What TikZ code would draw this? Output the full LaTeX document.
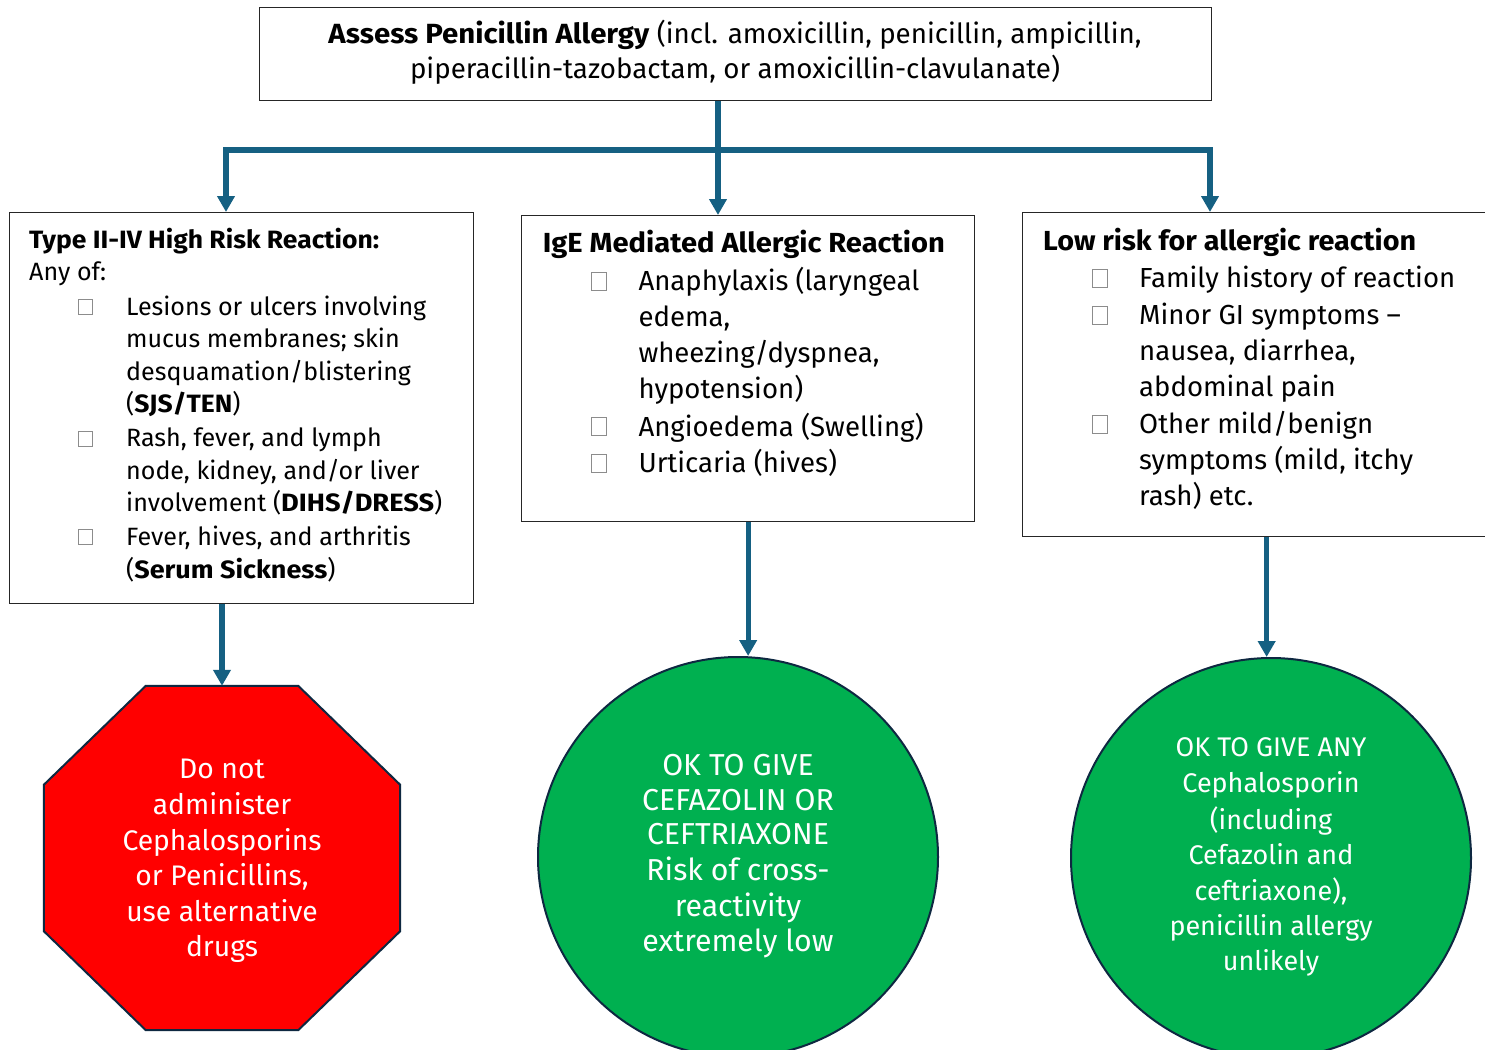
\documentclass[tikz,border=0pt]{standalone}
\usepackage{fontspec}
\usepackage{graphicx}
\setmainfont{Fira Sans}
\usetikzlibrary{arrows.meta,shapes.geometric}
\definecolor{arrowc}{HTML}{156082}
\definecolor{stopred}{HTML}{FF0000}
\definecolor{okgreen}{HTML}{00B050}
\definecolor{outl}{HTML}{0E2841}
\newlength\mymeas
\newcommand\mkfs[3]{\settowidth\mymeas{\fontsize{10pt}{12pt}\selectfont #3}\pgfmathsetmacro#1{10*#2/\mymeas}}
\newcommand\fitx[2]{\settowidth\mymeas{#2}\pgfmathsetmacro\sxf{#1/\mymeas}\scalebox{\sxf}[1]{#2}}
\tikzset{
  box/.style={draw=black!85, line width=1.3pt, fill=white, inner sep=0, anchor=north west},
  arr/.style={draw=arrowc, line width=5.3pt, -{Triangle[width=17pt,length=16pt]}},
  cb/.style={draw=black!45, line width=0.7pt, fill=white, inner sep=0, anchor=south west},
  ln/.style={anchor=base west, inner sep=0},
  lnc/.style={anchor=base, inner sep=0},
  shapeout/.style={draw=outl, line width=2pt, inner sep=0}
}
\begin{document}
\mkfs\fsT{650}{piperacillin-tazobactam, or amoxicillin-clavulanate)}%
\mkfs\fsL{300}{Lesions or ulcers involving}%
\mkfs\fsM{281}{Anaphylaxis (laryngeal}%
\mkfs\fsR{316}{Family history of reaction}%
\mkfs\fsO{199}{Cephalosporins}%
\mkfs\fsCa{182}{CEFTRIAXONE}%
\mkfs\fsCb{203}{penicillin allergy}%
\begin{tikzpicture}[x=1pt,y=-1pt]
\useasboundingbox (0,0) rectangle (1485,1049);
\fill[white] (0,0) rectangle (1485,1049);

% boxes
\node[box, minimum width=952, minimum height=93] (top) at (259,7) {};
\node[box, minimum width=464, minimum height=391] (Lbox) at (9,212) {};
\node[box, minimum width=453, minimum height=306] (Mbox) at (521,215) {};
\node[box, minimum width=488, minimum height=324] (Rbox) at (1022,212) {};

% shapes
\node[inner sep=0, minimum width=356, minimum height=344] (oct) at (222,858) {};
\draw[shapeout, fill=stopred] ([xshift=102]oct.north west) -- ([xshift=-102]oct.north east)
  -- ([yshift=-99]oct.north east) -- ([yshift=99]oct.south east)
  -- ([xshift=-102]oct.south east) -- ([xshift=102]oct.south west)
  -- ([yshift=99]oct.south west) -- ([yshift=-99]oct.north west) -- cycle;
\node[shapeout, fill=okgreen, circle, minimum size=400] (C1) at (738,857) {};
\node[shapeout, fill=okgreen, circle, minimum size=400] (C2) at (1271,858) {};

% connectors
\coordinate (J) at (718,150);
\coordinate (xL) at (226,0);
\coordinate (xR) at (1210,0);
\draw[arr] (top.south -| J) -- (J |- Mbox.north);
\draw[arr] (J) -| (xL |- Lbox.north);
\draw[arr] (J) -| (xR |- Rbox.north);
\draw[arr] (oct.north |- Lbox.south) -- (oct.north);
\draw[arr] (Mbox.south) -- (Mbox.south |- C1.north);
\draw[arr] (Rbox.south) -- (Rbox.south |- C2.north);

% top text
\begin{scope}[every node/.append style={font=\fontsize{\fsT}{\fsT}\selectfont}]
\node[lnc] (t1) at (735,43.5) {\fitx{321}{\textbf{Assess Penicillin Allergy}} (incl. amoxicillin, penicillin, ampicillin,};
\node[lnc] (t2) at (735,78.5) {piperacillin-tazobactam, or amoxicillin-clavulanate)};
\end{scope}

% left box text
\begin{scope}[every node/.append style={font=\fontsize{\fsL}{\fsL}\selectfont}]
\node[ln] (l0) at (29,248) {\fitx{350}{\textbf{Type II-IV High Risk Reaction:}}};
\node[ln] (l00) at (29,280) {Any of:};
\node[cb, minimum width=14, minimum height=15] (lc1) at (78,314.5) {};
\node[ln] (l1) at (126,315) {Lesions or ulcers involving};
\node[ln] (l2) at (126,347.5) {mucus membranes; skin};
\node[ln] (l3) at (126,380) {desquamation/blistering};
\node[ln] (l4) at (126,412) {(\fitx{98}{\textbf{SJS/TEN}})};
\node[cb, minimum width=14, minimum height=15] (lc2) at (78,446.5) {};
\node[ln] (l5) at (126,446.5) {Rash, fever, and lymph};
\node[ln] (l6) at (126,479) {node, kidney, and/or liver};
\node[ln] (l7) at (126,511.5) {involvement (\fitx{153}{\textbf{DIHS/DRESS}})};
\node[cb, minimum width=14, minimum height=15] (lc3) at (78,545) {};
\node[ln] (l8) at (126,545) {Fever, hives, and arthritis};
\node[ln] (l9) at (126,578) {(\fitx{193}{\textbf{Serum Sickness}})};
\end{scope}

% middle box text
\begin{scope}[every node/.append style={font=\fontsize{\fsM}{\fsM}\selectfont}]
\node[ln] (m0) at (542.7,252.7) {\fitx{402}{\textbf{IgE Mediated Allergic Reaction}}};
\node[cb, minimum width=15, minimum height=18] (mc1) at (591,290.5) {};
\node[ln] (m1) at (638.3,290.5) {Anaphylaxis (laryngeal};
\node[ln] (m2) at (638.3,326.7) {edema,};
\node[ln] (m3) at (638.3,362.7) {wheezing/dyspnea,};
\node[ln] (m4) at (638.3,398.3) {hypotension)};
\node[cb, minimum width=15, minimum height=18] (mc2) at (591,436) {};
\node[ln] (m5) at (638.3,436) {Angioedema (Swelling)};
\node[cb, minimum width=15, minimum height=18] (mc3) at (591,472.7) {};
\node[ln] (m6) at (638.3,472.7) {Urticaria (hives)};
\end{scope}

% right box text
\begin{scope}[every node/.append style={font=\fontsize{\fsR}{\fsR}\selectfont}]
\node[ln] (r0) at (1043,250) {\fitx{373}{\textbf{Low risk for allergic reaction}}};
\node[cb, minimum width=15, minimum height=18] (rc1) at (1092,287.3) {};
\node[ln] (r1) at (1139,287.3) {Family history of reaction};
\node[cb, minimum width=15, minimum height=18] (rc2) at (1092,324.3) {};
\node[ln] (r2) at (1139,324.3) {Minor GI symptoms –};
\node[ln] (r3) at (1139,360.7) {nausea, diarrhea,};
\node[ln] (r4) at (1139,396.7) {abdominal pain};
\node[cb, minimum width=15, minimum height=18] (rc3) at (1092,433.3) {};
\node[ln] (r5) at (1139,433.3) {Other mild/benign};
\node[ln] (r6) at (1139,469.3) {symptoms (mild, itchy};
\node[ln] (r7) at (1139,505.7) {rash) etc.};
\end{scope}

% octagon text
\begin{scope}[every node/.append style={font=\fontsize{\fsO}{\fsO}\selectfont, text=white}]
\node[lnc] (o1) at (222,778.3) {Do not};
\node[lnc] (o2) at (222,814) {administer};
\node[lnc] (o3) at (222,850) {Cephalosporins};
\node[lnc] (o4) at (222,885.7) {or Penicillins,};
\node[lnc] (o5) at (222,921.7) {use alternative};
\node[lnc] (o6) at (222,956.7) {drugs};
\end{scope}

% circle 1 text
\begin{scope}[every node/.append style={font=\fontsize{\fsCa}{\fsCa}\selectfont, text=white}]
\node[lnc] (a1) at (738,775) {OK TO GIVE};
\node[lnc] (a2) at (738,810) {CEFAZOLIN OR};
\node[lnc] (a3) at (738,844.5) {CEFTRIAXONE};
\node[lnc] (a4) at (738,880) {Risk of cross-};
\node[lnc] (a5) at (738,916) {reactivity};
\node[lnc] (a6) at (738,951.7) {extremely low};
\end{scope}

% circle 2 text
\begin{scope}[every node/.append style={font=\fontsize{\fsCb}{\fsCb}\selectfont, text=white}]
\node[lnc] (b1) at (1271,756.7) {OK TO GIVE ANY};
\node[lnc] (b2) at (1271,792.7) {Cephalosporin};
\node[lnc] (b3) at (1271,829.3) {(including};
\node[lnc] (b4) at (1271,864) {Cefazolin and};
\node[lnc] (b5) at (1271,900) {ceftriaxone),};
\node[lnc] (b6) at (1271,935) {penicillin allergy};
\node[lnc] (b7) at (1271,970.7) {unlikely};
\end{scope}
\end{tikzpicture}
\end{document}
